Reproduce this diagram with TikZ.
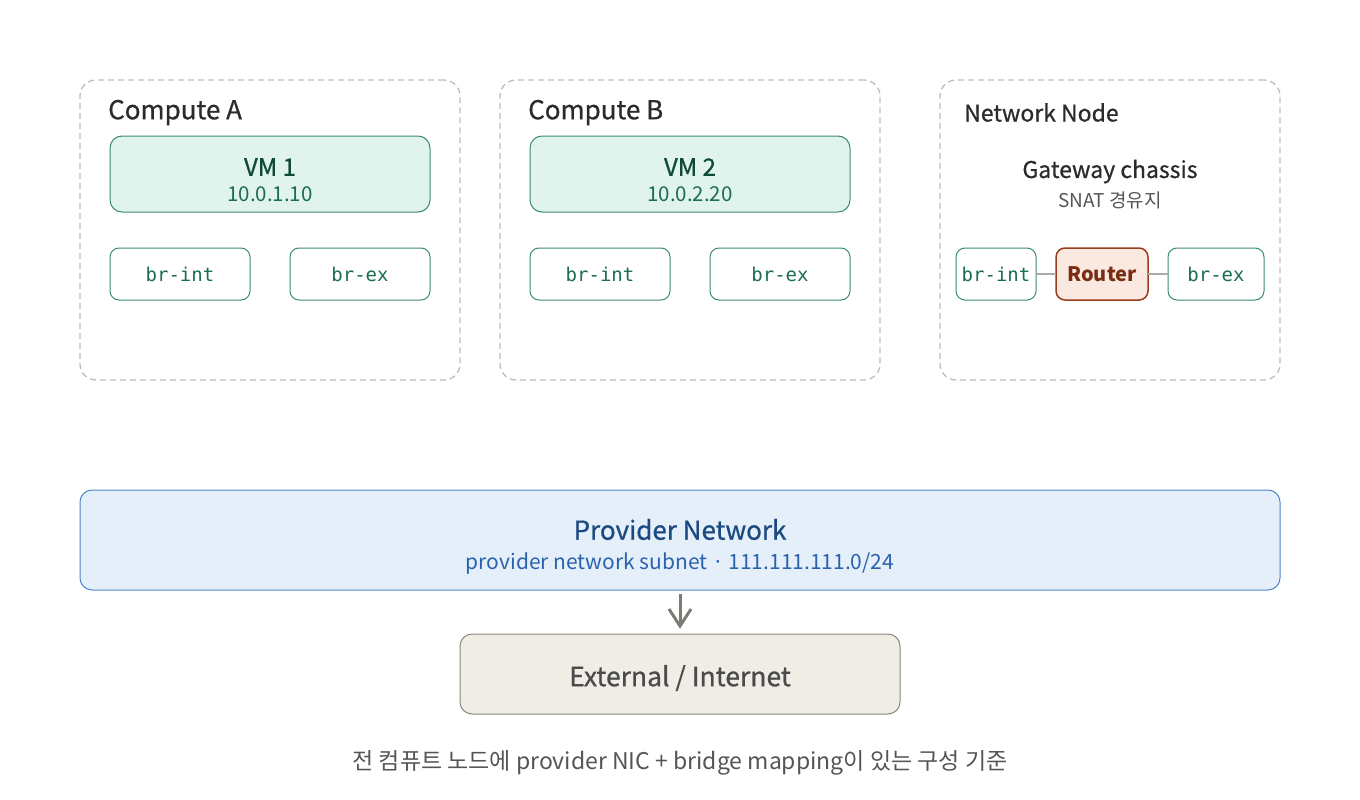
\documentclass[tikz,border=0pt]{standalone}
\usepackage{fontspec}
\setmainfont{Noto Sans CJK KR}
\newfontfamily\medf[FakeBold=0.7]{Noto Sans CJK KR}
\newfontfamily\monof{DejaVu Sans Mono}
\definecolor{dashc}{HTML}{BDBDB8}
\definecolor{grn}{HTML}{3A8C6E}
\definecolor{grnfill}{HTML}{E0F3EC}
\definecolor{grndark}{HTML}{0F4A35}
\definecolor{grntxt}{HTML}{1B6E4E}
\definecolor{rtfill}{HTML}{F9E9E1}
\definecolor{rtline}{HTML}{9B3B1C}
\definecolor{rttxt}{HTML}{7A2D12}
\definecolor{pvfill}{HTML}{E5EFFA}
\definecolor{pvline}{HTML}{4F86C6}
\definecolor{pvtitle}{HTML}{1A4A80}
\definecolor{pvsub}{HTML}{2A62AD}
\definecolor{exfill}{HTML}{F0EDE6}
\definecolor{exline}{HTML}{8A877F}
\definecolor{txtdark}{HTML}{2B2B2B}
\definecolor{txtgray}{HTML}{555555}
\definecolor{linkc}{HTML}{ABA9A3}
\definecolor{arrc}{HTML}{7C7C75}
\newcommand{\fs}[1]{\fontsize{#1}{#1}\selectfont}
\tikzset{
  hostbox/.style={draw=dashc, line width=1.3pt, dash pattern=on 6pt off 4pt, rounded corners=16pt, minimum width=380, minimum height=300, anchor=north west, inner sep=0, outer sep=0},
  vmbox/.style={draw=grn, fill=grnfill, line width=1pt, rounded corners=12pt, minimum width=320, minimum height=76, anchor=north west, inner sep=0, outer sep=0},
  brbox/.style={draw=grn, fill=white, line width=1pt, rounded corners=9pt, minimum height=52, anchor=north west, inner sep=0, outer sep=0, text=grntxt, font=\monof\fs{19}},
  routerbox/.style={draw=rtline, fill=rtfill, line width=1.5pt, rounded corners=9pt, minimum width=92, minimum height=52, anchor=north west, inner sep=0, outer sep=0, text=rttxt, font=\bfseries\fs{20}},
  hosttitle/.style={anchor=west, text=txtdark, inner sep=0},
  vmtitle/.style={text=grndark, font=\medf\fs{24}, inner sep=0},
  vmip/.style={text=grntxt, font=\fs{20.5}, inner sep=0},
  link/.style={draw=linkc, line width=1.3pt},
  arrowline/.style={draw=arrc, line width=3pt},
}
\begin{document}
\begin{tikzpicture}[x=1pt,y=-1pt]
\useasboundingbox (0,0) rectangle (1360,800);
% host boxes
\node[hostbox] (hA) at (80,80) {};
\node[hostbox] (hB) at (500,80) {};
\node[hostbox, minimum width=340] (hN) at (940,80) {};
\node[hosttitle, font=\medf\fs{26}] (tA) at (108,112.5) {Compute A};
\node[hosttitle, font=\medf\fs{26}] (tB) at (528,112.5) {Compute B};
\node[hosttitle, font=\medf\fs{23}] (tN) at (964,112.5) {Network Node};
% VMs
\node[vmbox] (vm1) at (110,136) {};
\node[vmtitle] (vm1t) at (270,167) {VM 1};
\node[vmip] (vm1ip) at (270,194) {10.0.1.10};
\node[vmbox] (vm2) at (530,136) {};
\node[vmtitle] (vm2t) at (690,167) {VM 2};
\node[vmip] (vm2ip) at (690,194) {10.0.2.20};
% bridges
\node[brbox, minimum width=140] (aint) at (110,248) {br-int};
\node[brbox, minimum width=140] (aex) at (290,248) {br-ex};
\node[brbox, minimum width=140] (bint) at (530,248) {br-int};
\node[brbox, minimum width=140] (bex) at (710,248) {br-ex};
% network node
\node[text=txtdark, font=\medf\fs{23}, inner sep=0] (gw) at (1110,171.5) {Gateway chassis};
\node[text=txtgray, font=\fs{19}, inner sep=0] (snat) at (1110,200.5) {SNAT 경유지};
\node[brbox, minimum width=80] (nint) at (956,248) {br-int};
\node[routerbox] (rt) at (1056,248) {Router};
\node[brbox, minimum width=96] (nex) at (1168,248) {br-ex};
\draw[link] (nint.east) -- (rt.west);
\draw[link] (rt.east) -- (nex.west);
% provider network
\node[draw=pvline, fill=pvfill, line width=1pt, rounded corners=12pt, minimum width=1200, minimum height=100, anchor=north west, inner sep=0, outer sep=0] (pv) at (80,490) {};
\node[text=pvtitle, font=\medf\fs{26}, inner sep=0] (pvt) at (680,529.5) {Provider Network};
\node[text=pvsub, font=\fs{21}, inner sep=0] (pvs) at (680,564) {provider network subnet · 111.111.111.0/24};
% external
\node[draw=exline, fill=exfill, line width=1pt, rounded corners=12pt, minimum width=440, minimum height=80, anchor=north west, inner sep=0, outer sep=0] (ext) at (460,634) {};
\node[text=txtdark!85, font=\medf\fs{26.5}, inner sep=0] (extt) at (680,678) {External / Internet};
% arrow
\coordinate (atip) at ([yshift=8pt]ext.north);
\draw[arrowline] ([yshift=-4pt]pv.south) -- (atip);
\draw[arrowline, line join=miter] ([shift={(-11,-17)}]atip) -- (atip) -- ([shift={(11,-17)}]atip);
% footer
\node[text=txtgray, font=\fs{23}, inner sep=0] (foot) at (680,763) {전 컴퓨트 노드에 provider NIC + bridge mapping이 있는 구성 기준};
\end{tikzpicture}
\end{document}
